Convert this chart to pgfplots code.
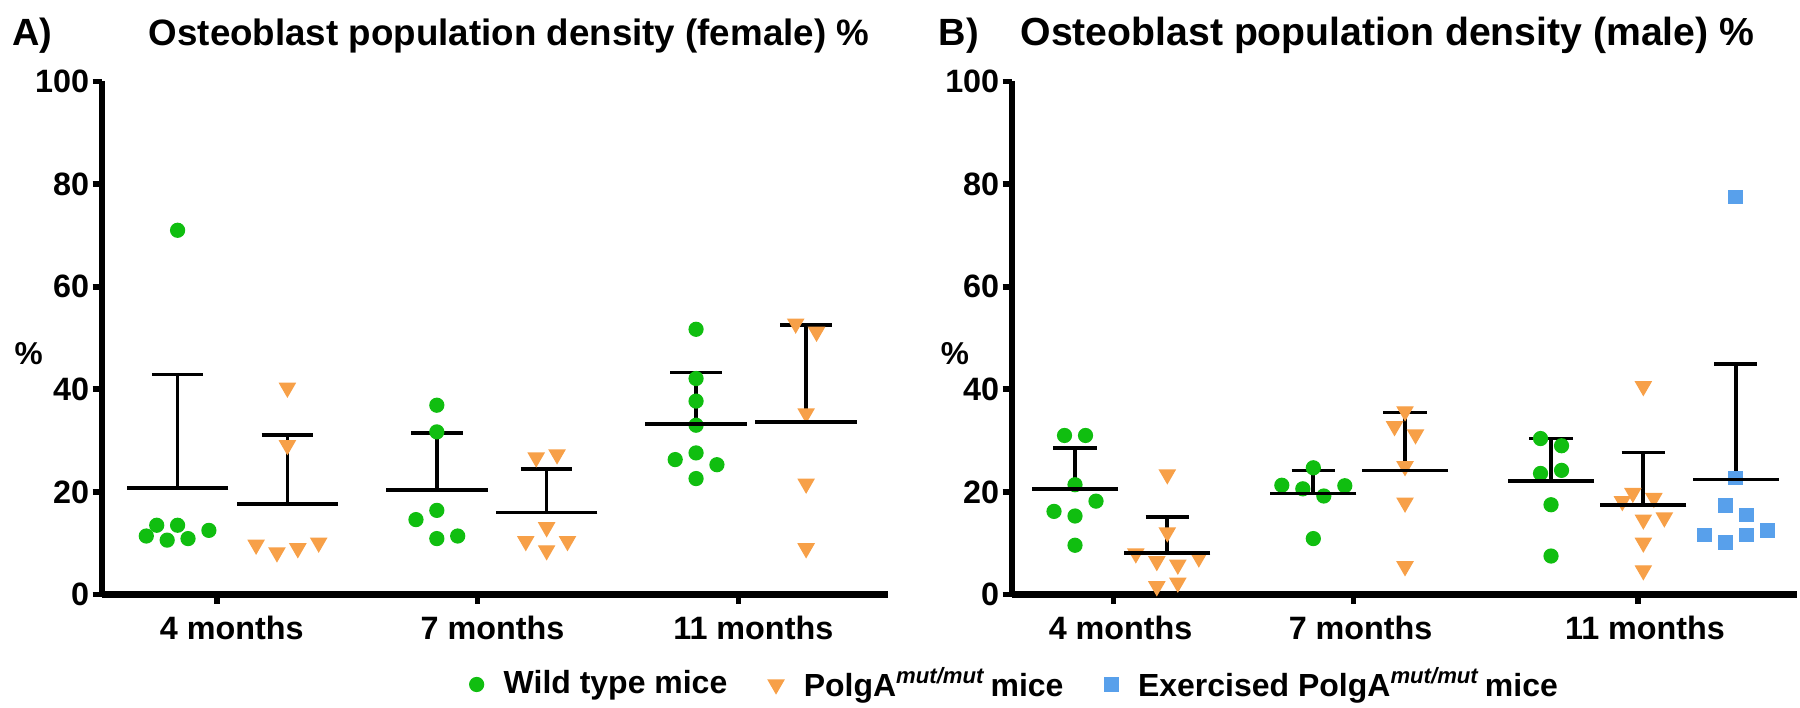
\documentclass[border=0pt]{standalone}
\usepackage{fontspec}
\setmainfont{Liberation Sans}
\usepackage{pgfplots}
\usepackage{pgfplotstable}
\pgfplotsset{compat=1.18}
\definecolor{wtgreen}{RGB}{16,190,16}
\definecolor{polgorange}{RGB}{247,160,72}
\definecolor{exblue}{RGB}{88,160,235}

% ---------- Panel A (female) ----------
\pgfplotstableread{
x y
0.730 11.4
0.770 13.5
0.810 10.6
0.850 71.0
0.850 13.5
0.890 10.9
0.970 12.5
1.844 36.9
1.844 31.7
1.844 16.4
1.764 14.6
1.844 10.9
1.924 11.4
2.838 51.7
2.838 42.1
2.838 37.7
2.838 33.0
2.838 27.6
2.758 26.3
2.918 25.3
2.838 22.6
}\AWT
\pgfplotstableread{
x y
1.151 9.7
1.231 8.2
1.271 40.3
1.271 29.1
1.311 9.0
1.391 10.1
2.225 26.7
2.305 27.3
2.265 13.1
2.185 10.4
2.345 10.4
2.265 8.6
3.220 52.8
3.300 51.2
3.260 35.3
3.260 21.6
3.260 9.0
}\APG
\pgfplotstableread{
x mean sd
0.850 20.7 22.2
1.844 20.4 11.1
2.838 33.3 10.0
1.271 17.6 13.5
2.265 16.0 8.4
3.260 33.6 19.0
}\AMEAN

% ---------- Panel B (male) ----------
\pgfplotstableread{
x y
0.528 31.0
0.738 31.0
0.633 21.4
0.843 18.2
0.423 16.2
0.633 15.3
0.633 9.6
3.016 24.7
2.701 21.3
2.911 20.6
3.331 21.2
3.121 19.2
3.016 10.9
5.288 30.4
5.498 29.0
5.288 23.6
5.498 24.2
5.393 17.5
5.393 7.5
}\BWT
\pgfplotstableread{
x y
1.556 23.4
1.556 12.1
1.241 8.0
1.871 7.2
1.451 6.5
1.661 5.8
1.451 1.6
1.661 2.3
3.933 35.7
3.828 32.8
4.038 31.2
3.933 25.0
3.933 17.9
3.933 5.5
6.316 40.6
6.211 19.8
6.421 18.8
6.106 18.2
6.316 14.6
6.526 15.0
6.316 10.1
6.316 4.7
}\BPG
\pgfplotstableread{
x y
7.240 77.5
7.240 22.7
7.135 17.3
7.345 15.5
6.925 11.6
7.135 10.1
7.345 11.6
7.555 12.5
}\BEX
\pgfplotstableread{
x mean sd
0.633 20.6 7.9
3.016 19.7 4.5
5.393 22.1 8.3
1.556 8.1 7.0
3.933 24.2 11.3
6.316 17.4 10.3
7.240 22.4 22.6
}\BMEAN

\pgfplotsset{
  panel/.style={
    scale only axis, height=51.3mm, ymin=0, ymax=100, ytick={0,20,...,100},
    axis x line*=bottom, axis y line*=left,
    axis line style={-, line width=1.8pt},
    every outer x axis line/.append style={-},
    every outer y axis line/.append style={-},
    xtick pos=bottom, ytick pos=left,
    tick style={line width=1.6pt, black}, tick align=outside,
    major tick length=0.9mm,
    clip=false, anchor=south west,
    /pgf/number format/assume math mode=true,
    yticklabel style={font=\bfseries\fontsize{9.2}{10}\selectfont, inner sep=0.8pt},
    xticklabel style={font=\bfseries\fontsize{9.2}{11}\selectfont},
    xticklabels={4 months,7 months,11 months},
  },
  wt/.style={only marks, mark=*, mark size=0.69mm, color=wtgreen, mark options={draw=none, fill=wtgreen}},
  pg/.style={only marks, mark=triangle*, mark size=0.88mm, color=polgorange, mark options={draw=none, fill=polgorange, rotate=180}},
  ex/.style={only marks, mark=square*, mark size=0.67mm, color=exblue, mark options={draw=none, fill=exblue}},
  means/.style 2 args={only marks, mark=-, black, mark size=#1, mark options={line width=1.05pt},
    error bars/y dir=plus, error bars/y explicit,
    error bars/error bar style={line width=1.05pt, black},
    error bars/error mark options={rotate=90, line width=1.05pt, mark size=#2, black}},
}

\begin{document}
\begin{tikzpicture}[x=1mm,y=1mm]
\useasboundingbox (0,0) rectangle (180,70.7);

% Panel A
\begin{axis}[panel, at={(10.17mm,11.25mm)}, width=78.63mm,
  xmin=0.559, xmax=3.574, xtick={1,2,3},
  xticklabel style={xshift=1.5mm}]
  \addplot[wt] table[x=x,y=y] {\AWT};
  \addplot[pg] table[x=x,y=y] {\APG};
  \addplot[means={5.08mm}{2.58mm}] table[x=x,y=mean,y error=sd] {\AMEAN};
\end{axis}

% Panel B
\begin{axis}[panel, at={(101.17mm,11.25mm)}, width=78.53mm,
  xmin=0, xmax=7.853, xtick={1.019,3.419,6.263},
  xticklabel style={xshift=0.7mm},
  legend columns=3,
  legend style={at={(rel axis cs:0.004,-0.1754)}, anchor=center, draw=none, fill=none,
    font=\bfseries\fontsize{9.1}{11}\selectfont,
    nodes={inner sep=0.6pt},
    /tikz/every even column/.append style={column sep=3.9mm},
    /tikz/every odd column/.append style={column sep=1.8mm}},
  legend image code/.code={\draw[#1] plot coordinates {(0mm,0mm)};}]
  \addplot[wt] table[x=x,y=y] {\BWT};
  \addlegendentry{Wild type mice}
  \addplot[pg] table[x=x,y=y] {\BPG};
  \addlegendentry{PolgA\textsuperscript{\itshape\fontsize{6.3}{7}\selectfont mut/mut}\,mice}
  \addplot[ex] table[x=x,y=y] {\BEX};
  \addlegendentry{Exercised PolgA\textsuperscript{\itshape\fontsize{6.3}{7}\selectfont mut/mut}\,mice}
  \addplot[forget plot, means={4.3mm}{2.17mm}] table[x=x,y=mean,y error=sd] {\BMEAN};
\end{axis}

% titles and labels
\node[font=\bfseries\fontsize{10.8}{13}\selectfont, inner sep=0pt, anchor=base west] at (1.15,66.1) {A)};
\node[font=\bfseries\fontsize{10.45}{13}\selectfont, inner sep=0pt, anchor=base] at (50.9,66.1) {Osteoblast population density (female) \%};
\node[font=\bfseries\fontsize{10.8}{13}\selectfont, inner sep=0pt, anchor=base west] at (93.8,66.1) {B)};
\node[font=\bfseries\fontsize{11.15}{13}\selectfont, inner sep=0pt, anchor=base] at (138.75,66.1) {Osteoblast population density (male) \%};
\node[font=\bfseries\fontsize{9}{10}\selectfont, inner sep=0pt] at (2.87,35.3) {\%};
\node[font=\bfseries\fontsize{9}{10}\selectfont, inner sep=0pt] at (95.5,35.3) {\%};
\end{tikzpicture}
\end{document}
